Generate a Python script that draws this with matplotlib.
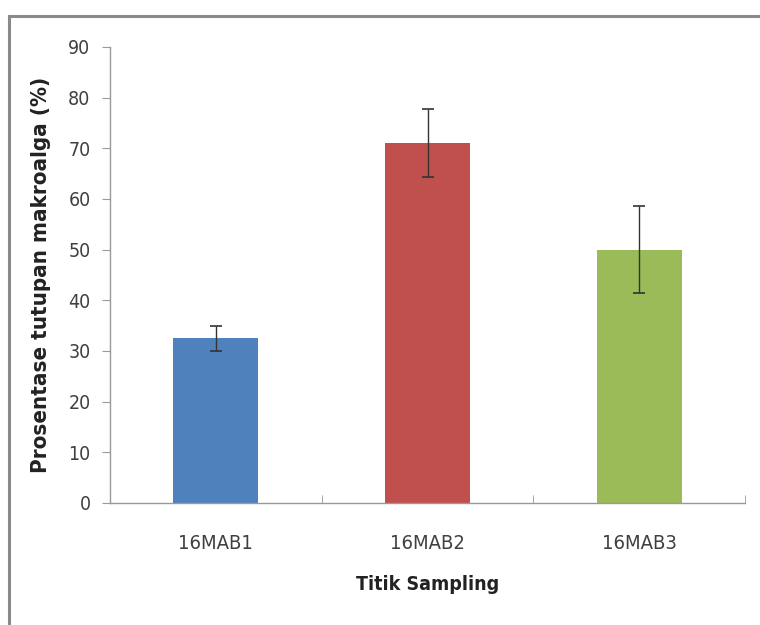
import matplotlib
matplotlib.use("Agg")
import matplotlib.pyplot as plt
from matplotlib.patches import Rectangle

# data
sites = ["16MAB1", "16MAB2", "16MAB3"]
cover = [32.5, 71.0, 50.0]
cover_err = [2.5, 6.7, 8.6]
bar_colors = ["#4F81BD", "#C0504D", "#9BBB59"]
y_ticks = [0, 10, 20, 30, 40, 50, 60, 70, 80, 90]

plt.rcParams["font.family"] = ["DejaVu Sans"]
plt.rcParams["font.stretch"] = "condensed"

fig = plt.figure(figsize=(7.6, 6.25), dpi=100)
ax = fig.add_axes([110 / 760, 1 - 503 / 625, 635 / 760, 456 / 625])

# grey frame around the chart area (top and left visible, runs off the image)
fig.patches.append(Rectangle((9 / 760, -0.1), 1.1, 1 - 16 / 625 + 0.1,
                             transform=fig.transFigure, fill=False,
                             edgecolor="#8a8a8a", linewidth=2.2))

x = range(len(sites))
ax.bar(x, cover, width=0.4, color=bar_colors, zorder=2)
ax.errorbar(x, cover, yerr=cover_err, fmt="none", ecolor="#333333",
            elinewidth=1.0, capsize=4, capthick=1.2, zorder=3)

ax.set_xlim(-0.5, 2.5)
ax.set_ylim(0, 90)
ax.set_yticks(y_ticks)
ax.set_xticks(list(x))
ax.set_xticklabels(sites)
ax.set_xticks([-0.5, 0.5, 1.5, 2.5], minor=True)
ax.tick_params(axis="x", which="major", length=0, pad=22, labelsize=14.5, colors="#404040")
ax.tick_params(axis="x", which="minor", length=6, color="#999999", direction="in")
ax.tick_params(axis="y", length=6, color="#999999", direction="out", labelsize=14,
               labelcolor="#404040", pad=8)

for s in ["top", "right"]:
    ax.spines[s].set_visible(False)
for s in ["left", "bottom"]:
    ax.spines[s].set_color("#999999")
    ax.spines[s].set_linewidth(1.0)

ax.set_ylabel("Prosentase tutupan makroalga (%)", fontsize=16, fontweight="bold",
              color="#222222")
ax.yaxis.set_label_coords(-59 / 635, 0.5)
ax.set_xlabel("Titik Sampling", fontsize=14, fontweight="bold", color="#222222",
              labelpad=16)

fig.savefig("out.png", dpi=100, facecolor="white")
